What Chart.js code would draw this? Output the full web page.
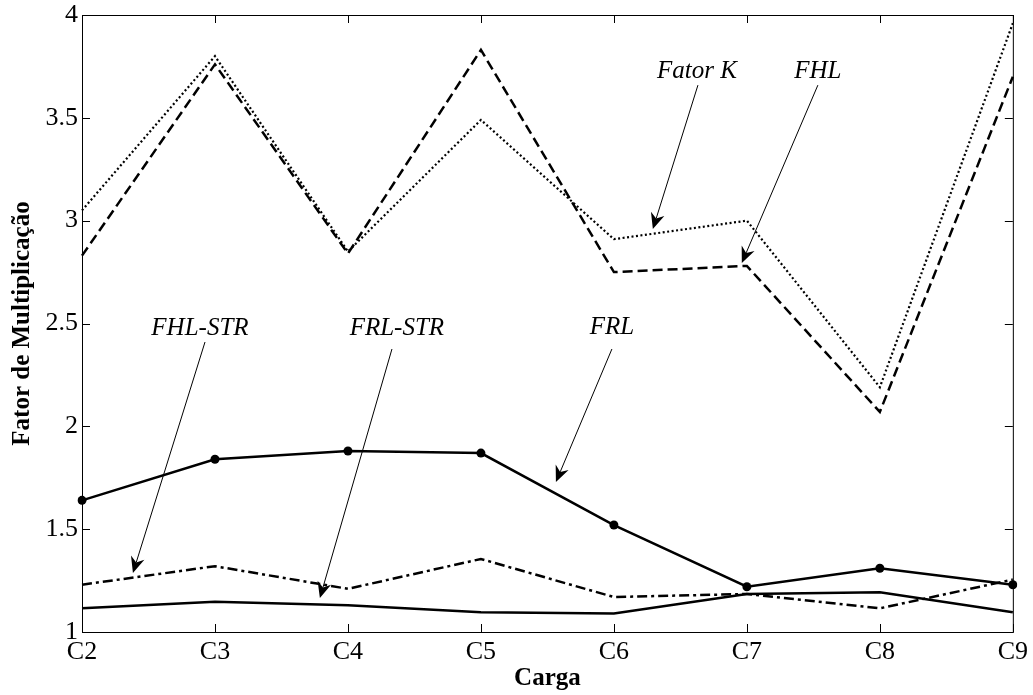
<!DOCTYPE html>
<html>
<head>
<meta charset="utf-8">
<script src="https://cdn.jsdelivr.net/npm/chart.js@4/dist/chart.umd.min.js"></script>
<style>
  html, body { margin: 0; padding: 0; background: #fff; }
  canvas { display: block; }
</style>
</head>
<body>
<canvas id="chart" width="1033" height="695"></canvas>
<script>
// categorias (cargas)
const cargas = ['C2', 'C3', 'C4', 'C5', 'C6', 'C7', 'C8', 'C9'];

// series
const fatorK  = [3.05, 3.80, 2.85, 3.49, 2.91, 3.00, 2.19, 3.96];
const fhl     = [2.83, 3.76, 2.84, 3.83, 2.75, 2.78, 2.07, 3.70];
const frl     = [1.64, 1.84, 1.88, 1.87, 1.52, 1.22, 1.31, 1.23];
const fhlStr  = [1.23, 1.32, 1.21, 1.355, 1.17, 1.185, 1.115, 1.255];
const frlStr  = [1.115, 1.147, 1.13, 1.096, 1.09, 1.185, 1.193, 1.096];

const yTicks = [1, 1.5, 2, 2.5, 3, 3.5, 4];

// anotacoes: texto e seta, em coordenadas (indice da categoria, valor)
const notas = [
  { texto: 'Fator K', pos: [4.624, 3.727], de: [4.632, 3.659], ate: [4.293, 2.959] },
  { texto: 'FHL',     pos: [5.534, 3.727], de: [5.534, 3.659], ate: [4.962, 2.794] },
  { texto: 'FHL-STR', pos: [0.887, 2.478], de: [0.925, 2.410], ate: [0.383, 1.287] },
  { texto: 'FRL-STR', pos: [2.368, 2.478], de: [2.331, 2.376], ate: [1.789, 1.165] },
  { texto: 'FRL',     pos: [3.985, 2.483], de: [3.985, 2.376], ate: [3.564, 1.729] }
];

const serif = "'Liberation Serif', 'Times New Roman', serif";

// moldura com ticks para dentro + anotacoes
const molduraPlugin = {
  id: 'moldura',
  afterDraw(chart) {
    const ctx = chart.ctx;
    const a = chart.chartArea;
    const xs = chart.scales.x, ys = chart.scales.y;
    ctx.save();
    ctx.strokeStyle = '#000';
    ctx.lineWidth = 1;
    ctx.strokeRect(a.left + 0.5, a.top + 0.5, a.right - a.left, a.bottom - a.top);
    const tl = 8;
    ctx.beginPath();
    for (let i = 0; i < cargas.length; i++) {
      const x = Math.round(xs.getPixelForValue(i)) + 0.5;
      ctx.moveTo(x, a.bottom); ctx.lineTo(x, a.bottom - tl);
      ctx.moveTo(x, a.top); ctx.lineTo(x, a.top + tl);
    }
    yTicks.forEach(v => {
      const y = Math.round(ys.getPixelForValue(v)) + 0.5;
      ctx.moveTo(a.left, y); ctx.lineTo(a.left + tl, y);
      ctx.moveTo(a.right, y); ctx.lineTo(a.right - tl, y);
    });
    ctx.stroke();

    // anotacoes
    ctx.fillStyle = '#000';
    ctx.font = 'italic 25px ' + serif;
    ctx.textAlign = 'center';
    ctx.textBaseline = 'middle';
    notas.forEach(n => {
      ctx.fillText(n.texto, xs.getPixelForValue(n.pos[0]), ys.getPixelForValue(n.pos[1]));
      const x0 = xs.getPixelForValue(n.de[0]), y0 = ys.getPixelForValue(n.de[1]);
      const x1 = xs.getPixelForValue(n.ate[0]), y1 = ys.getPixelForValue(n.ate[1]);
      const ang = Math.atan2(y1 - y0, x1 - x0);
      const L = 16, W = 7, notch = 11;
      ctx.lineWidth = 1;
      ctx.beginPath();
      ctx.moveTo(x0, y0);
      ctx.lineTo(x1 - Math.cos(ang) * notch, y1 - Math.sin(ang) * notch);
      ctx.stroke();
      const c = Math.cos(ang), s = Math.sin(ang);
      const bx = x1 - c * L, by = y1 - s * L;
      ctx.beginPath();
      ctx.moveTo(x1, y1);
      ctx.lineTo(bx - s * W, by + c * W);
      ctx.lineTo(x1 - c * notch, y1 - s * notch);
      ctx.lineTo(bx + s * W, by - c * W);
      ctx.closePath();
      ctx.fill();
    });
    ctx.restore();
  }
};

function serie(label, data, extra) {
  return Object.assign({
    label: label,
    data: data,
    borderColor: '#000',
    backgroundColor: '#000',
    borderWidth: 2.5,
    pointRadius: 0,
    fill: false,
    tension: 0
  }, extra);
}

new Chart(document.getElementById('chart'), {
  type: 'line',
  data: {
    labels: cargas,
    datasets: [
      serie('Fator K', fatorK, { borderDash: [2, 2.5], borderWidth: 2.2 }),
      serie('FHL', fhl, { borderDash: [10, 5] }),
      serie('FRL', frl, { pointRadius: 4.5, pointBackgroundColor: '#000', pointBorderWidth: 0 }),
      serie('FHL-STR', fhlStr, { borderDash: [10, 4, 3, 4] }),
      serie('FRL-STR', frlStr, {})
    ]
  },
  options: {
    responsive: false,
    animation: false,
    layout: { padding: { top: 15, right: 20, left: 0, bottom: 0 } },
    plugins: {
      legend: { display: false },
      tooltip: { enabled: false }
    },
    scales: {
      x: {
        type: 'category',
        offset: false,
        grid: { display: false, drawTicks: false },
        border: { display: false },
        ticks: { color: '#000', font: { family: serif, size: 26 }, padding: 5, maxRotation: 0, autoSkip: false },
        title: { display: true, text: 'Carga', color: '#000', font: { family: serif, size: 25, weight: 'bold' }, padding: { top: 0, bottom: 1 } },
        afterFit(s) { s.height = 63; }
      },
      y: {
        min: 1,
        max: 4,
        grid: { display: false, drawTicks: false },
        border: { display: false },
        afterBuildTicks(s) { s.ticks = yTicks.map(v => ({ value: v })); },
        ticks: { color: '#000', font: { family: serif, size: 26 }, padding: 4, callback: v => String(v) },
        title: { display: true, text: 'Fator de Multiplicação', color: '#000', font: { family: serif, size: 25, weight: 'bold' }, padding: { top: 8, bottom: 0 } },
        afterFit(s) { s.width = 82; s.paddingTop = 0; s.paddingBottom = 0; }
      }
    }
  },
  plugins: [molduraPlugin]
});
</script>
</body>
</html>
